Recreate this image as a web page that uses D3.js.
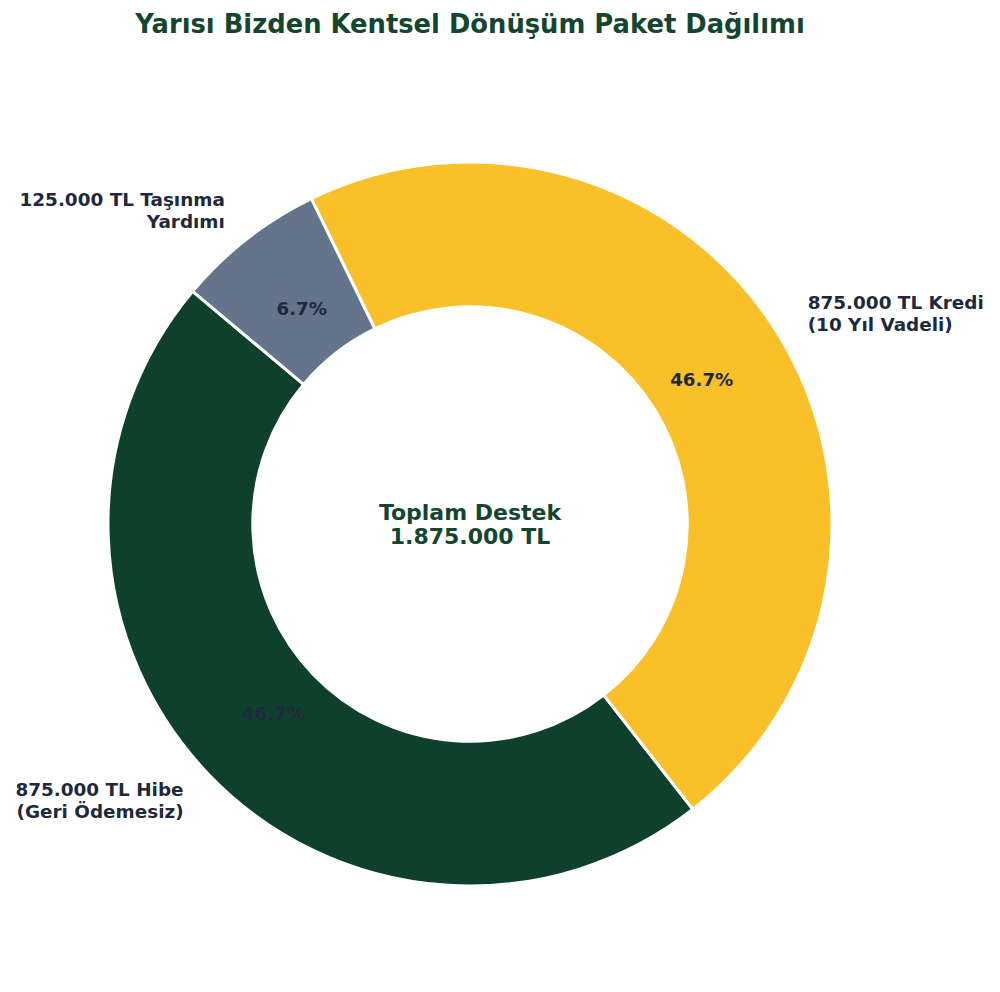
<!DOCTYPE html>
<html><head><meta charset="utf-8">
<script src="https://cdn.jsdelivr.net/npm/d3@7"></script>
<style>body{margin:0;background:#fff}svg{display:block}</style>
</head><body>
<svg id="c" width="1000" height="992"></svg>
<script>
const categories = ["875.000 TL Hibe\n(Geri Ödemesiz)", "875.000 TL Kredi\n(10 Yıl Vadeli)", "125.000 TL Taşınma\nYardımı"];
const values = [875000, 875000, 125000];
const colors = ["#0f402b", "#f9c02a", "#64748b"];
const titleText = "Yarısı Bizden Kentsel Dönüşüm Paket Dağılımı";
const centerText = ["Toplam Destek", "1.875.000 TL"];

const svg = d3.select("#c");
const cx = 470, cy = 524, R = 362, r0 = R * 0.6;
const font = "'DejaVu Sans', sans-serif";
const txt = "#1e293b";

svg.append("text").attr("x", cx).attr("y", 25).attr("text-anchor", "middle")
  .attr("dominant-baseline", "middle").attr("font-family", font).attr("font-weight", "bold")
  .attr("font-size", 25.8).attr("fill", "#14452f").text(titleText);

const deg = Math.PI / 180;
// matplotlib startangle=140, counterclockwise → d3 angles
const start = (90 - 140) * deg;
const pie = d3.pie().sort(null).value(d => d).startAngle(start).endAngle(start - 2 * Math.PI);
const arcs = pie(values);
const arc = d3.arc().innerRadius(r0).outerRadius(R);
const g = svg.append("g").attr("transform", `translate(${cx},${cy})`);
g.selectAll("path").data(arcs).join("path")
  .attr("d", arc).attr("fill", (d, i) => colors[i])
  .attr("stroke", "#fff").attr("stroke-width", 3).attr("stroke-linejoin", "round");

const total = d3.sum(values);
const pctR = R * 0.755, labR = R * 1.1;
arcs.forEach((a, i) => {
  const m = (a.startAngle + a.endAngle) / 2;
  const sx = Math.sin(m), sy = -Math.cos(m);
  g.append("text").attr("x", pctR * sx).attr("y", pctR * sy)
    .attr("text-anchor", "middle").attr("dominant-baseline", "central")
    .attr("font-family", font).attr("font-weight", "bold").attr("font-size", 18.2)
    .attr("fill", txt).text((values[i] / total * 100).toFixed(1) + "%");
  const lines = categories[i].split("\n");
  const lx = labR * sx, ly = labR * sy;
  const t = g.append("text").attr("text-anchor", sx >= 0 ? "start" : "end")
    .attr("font-family", font).attr("font-weight", "bold").attr("font-size", 18.4).attr("fill", txt);
  const lh = 22;
  lines.forEach((l, k) => {
    t.append("tspan").attr("x", lx).attr("y", ly + (k - (lines.length - 1) / 2) * lh)
      .attr("dominant-baseline", "central").text(l);
  });
});

const ct = g.append("text").attr("text-anchor", "middle").attr("font-family", font)
  .attr("font-weight", "bold").attr("font-size", 22).attr("fill", "#14452f");
centerText.forEach((l, k) => {
  ct.append("tspan").attr("x", 0).attr("y", -12 + k * 24).attr("dominant-baseline", "central").text(l);
});
</script>
</body></html>
